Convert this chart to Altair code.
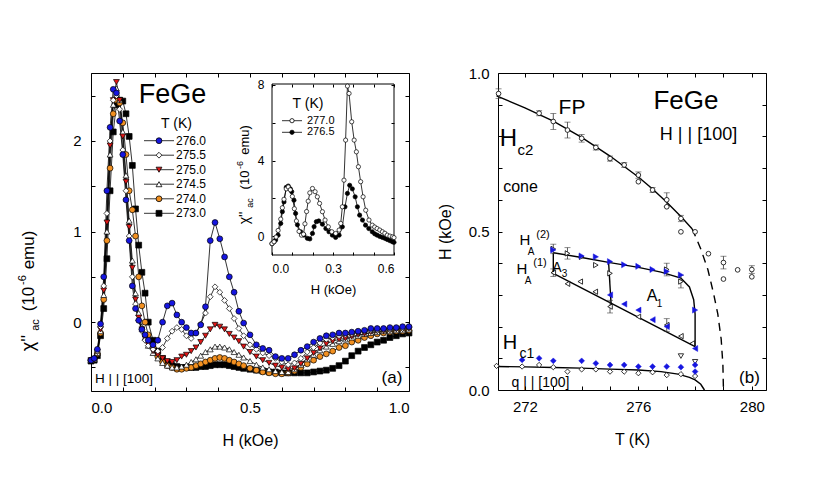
import altair as alt
import pandas as pd

FONT = "Liberation Sans"

# ---------------- panel (a): chi''_ac vs H ----------------
H_grid = [
    0.000, 0.010, 0.020, 0.030, 0.040, 0.050, 0.060, 0.070, 0.080, 0.090,
    0.100, 0.110, 0.120, 0.130, 0.140, 0.150, 0.160, 0.170, 0.180, 0.195,
    0.210, 0.225, 0.240, 0.255, 0.270, 0.285, 0.300, 0.315, 0.330, 0.345,
    0.360, 0.375, 0.390, 0.405, 0.420, 0.435, 0.450, 0.465, 0.480, 0.500,
    0.520, 0.540, 0.560, 0.580, 0.600, 0.620, 0.640, 0.660, 0.680, 0.700,
    0.720, 0.740, 0.760, 0.780, 0.800, 0.820, 0.840, 0.860, 0.880, 0.900,
    0.920, 0.940, 0.960, 0.980, 1.000]

T_labels = ["276.0", "275.5", "275.0", "274.5", "274.0", "273.0"]
T_shapes = ["circle", "diamond", "triangle-down", "triangle-up", "circle", "square"]
T_fills = ["#1616e0", "white", "#e01818", "white", "#f29020", "black"]

chi_2760 = [
    -0.42, -0.40, -0.30, -0.02, 0.50, 1.45, 2.15, 2.57, 2.53, 2.22,
    1.85, 1.35, 0.90, 0.40, 0.15, 0.02, -0.08, -0.14, -0.20, -0.25,
    -0.20, 0.00, 0.18, 0.21, 0.08, 0.00, -0.06, -0.12, -0.12, -0.03,
    0.17, 0.90, 1.10, 0.92, 0.72, 0.50, 0.33, 0.12, -0.01, -0.14,
    -0.25, -0.29, -0.31, -0.38, -0.40, -0.40, -0.36, -0.31, -0.27, -0.22,
    -0.18, -0.15, -0.14, -0.12, -0.12, -0.11, -0.10, -0.09, -0.07, -0.07,
    -0.07, -0.06, -0.06, -0.05, -0.05]
chi_2755 = [
    -0.42, -0.40, -0.32, -0.05, 0.40, 1.20, 2.00, 2.45, 2.50, 2.35,
    1.90, 1.45, 0.95, 0.50, 0.20, 0.02, -0.10, -0.20, -0.26, -0.30,
    -0.32, -0.28, -0.18, -0.10, -0.06, -0.08, -0.15, -0.18, -0.12, -0.02,
    0.10, 0.28, 0.39, 0.33, 0.24, 0.15, 0.04, -0.07, -0.15, -0.25,
    -0.30, -0.34, -0.37, -0.40, -0.44, -0.47, -0.45, -0.40, -0.33, -0.28,
    -0.23, -0.19, -0.17, -0.15, -0.14, -0.13, -0.11, -0.10, -0.09, -0.09,
    -0.08, -0.08, -0.07, -0.07, -0.06]
chi_2750 = [
    -0.42, -0.41, -0.33, -0.08, 0.35, 1.10, 1.95, 2.45, 2.65, 2.45,
    2.05, 1.55, 1.05, 0.60, 0.25, 0.05, -0.08, -0.18, -0.25, -0.32,
    -0.36, -0.40, -0.43, -0.44, -0.42, -0.38, -0.36, -0.32, -0.28, -0.22,
    -0.15, -0.08, -0.03, -0.05, -0.08, -0.13, -0.17, -0.21, -0.27, -0.33,
    -0.38, -0.42, -0.45, -0.48, -0.50, -0.52, -0.51, -0.46, -0.40, -0.34,
    -0.29, -0.24, -0.21, -0.19, -0.18, -0.16, -0.14, -0.13, -0.11, -0.10,
    -0.10, -0.09, -0.08, -0.08, -0.07]
chi_2745 = [
    -0.42, -0.41, -0.34, -0.10, 0.30, 1.00, 1.85, 2.40, 2.58, 2.45,
    2.10, 1.62, 1.12, 0.68, 0.32, 0.10, -0.05, -0.17, -0.26, -0.34,
    -0.40, -0.45, -0.48, -0.50, -0.50, -0.49, -0.47, -0.44, -0.41, -0.37,
    -0.33, -0.30, -0.27, -0.27, -0.28, -0.30, -0.33, -0.36, -0.39, -0.43,
    -0.47, -0.50, -0.52, -0.54, -0.55, -0.55, -0.52, -0.47, -0.41, -0.36,
    -0.31, -0.27, -0.24, -0.21, -0.19, -0.17, -0.15, -0.13, -0.12, -0.11,
    -0.10, -0.10, -0.09, -0.09, -0.08]
chi_2740 = [
    -0.42, -0.41, -0.35, -0.12, 0.25, 0.90, 1.70, 2.30, 2.45, 2.42,
    2.20, 1.85, 1.45, 1.24, 0.95, 0.50, 0.18, 0.00, -0.14, -0.28,
    -0.38, -0.44, -0.48, -0.50, -0.52, -0.52, -0.51, -0.50, -0.48, -0.46,
    -0.44, -0.42, -0.40, -0.39, -0.40, -0.42, -0.44, -0.46, -0.48, -0.51,
    -0.53, -0.55, -0.56, -0.57, -0.57, -0.56, -0.54, -0.50, -0.46, -0.42,
    -0.38, -0.35, -0.32, -0.28, -0.26, -0.22, -0.20, -0.17, -0.15, -0.13,
    -0.12, -0.11, -0.10, -0.10, -0.09]
chi_2730 = [
    -0.43, -0.42, -0.37, -0.15, 0.15, 0.70, 1.45, 2.10, 2.40, 2.45,
    2.44, 2.30, 2.05, 1.73, 1.25, 0.85, 0.55, 0.32, 0.00, -0.20,
    -0.32, -0.40, -0.45, -0.48, -0.49, -0.50, -0.50, -0.50, -0.50, -0.49,
    -0.49, -0.48, -0.47, -0.47, -0.47, -0.48, -0.49, -0.50, -0.51, -0.52,
    -0.53, -0.54, -0.55, -0.55, -0.56, -0.56, -0.56, -0.56, -0.56, -0.55,
    -0.54, -0.53, -0.51, -0.48, -0.43, -0.37, -0.32, -0.28, -0.25, -0.22,
    -0.20, -0.17, -0.15, -0.13, -0.12]

# inset
inset_H_2770 = [
    0.000, 0.010, 0.020, 0.030, 0.043, 0.051, 0.059, 0.070, 0.080, 0.090,
    0.100, 0.110, 0.120, 0.133, 0.145, 0.155, 0.162, 0.170, 0.178, 0.186,
    0.199, 0.212, 0.223, 0.234, 0.248, 0.261, 0.277, 0.294, 0.313, 0.330,
    0.338, 0.346, 0.354, 0.362, 0.371, 0.379, 0.392, 0.404, 0.415, 0.425,
    0.436, 0.448, 0.461, 0.477, 0.493, 0.505, 0.517, 0.530, 0.543, 0.555,
    0.567, 0.580, 0.592, 0.600]
inset_chi_2770 = [
    -0.40, -0.30, -0.05, 0.30, 0.90, 1.50, 1.95, 2.50, 2.60, 2.45,
    2.10, 1.45, 0.80, 0.25, 0.05, 0.10, 0.65, 1.30, 1.85, 2.29,
    2.52, 2.35, 2.08, 1.73, 1.29, 0.85, 0.49, 0.23, 0.14, 0.32,
    0.67, 1.55, 2.96, 5.08, 7.94, 7.55, 6.05, 5.08, 4.46, 3.67,
    2.88, 2.08, 1.37, 0.85, 0.58, 0.48, 0.40, 0.32, 0.23, 0.15,
    0.05, 0.00, -0.04, -0.08]
inset_H_2765 = [
    0.000, 0.010, 0.018, 0.030, 0.043, 0.051, 0.059, 0.070, 0.080, 0.090,
    0.097, 0.108, 0.116, 0.125, 0.141, 0.157, 0.174, 0.186, 0.199, 0.207,
    0.218, 0.230, 0.248, 0.265, 0.280, 0.297, 0.313, 0.330, 0.346, 0.359,
    0.371, 0.382, 0.395, 0.409, 0.420, 0.431, 0.445, 0.460, 0.476, 0.493,
    0.505, 0.517, 0.530, 0.543, 0.555, 0.567, 0.580, 0.592, 0.600]
inset_chi_2765 = [
    -0.40, -0.30, -0.20, 0.05, 0.67, 1.29, 1.81, 2.58, 2.65, 2.50,
    2.35, 1.90, 1.20, 0.60, 0.23, 0.05, -0.12, -0.15, 0.14, 0.50,
    0.76, 0.80, 0.63, 0.40, 0.23, 0.05, -0.07, 0.05, 0.49, 1.55,
    2.26, 2.69, 2.50, 2.08, 1.55, 1.11, 0.85, 0.58, 0.40, 0.23,
    0.12, 0.05, -0.02, -0.07, -0.12, -0.18, -0.24, -0.30, -0.33]

# ---------------- panel (b): phase diagram ----------------
hc2_T = [271.07, 272.5, 273.0, 273.5, 274.0, 274.5, 275.0, 275.5, 276.0, 276.0, 276.5,
         277.0, 277.0, 277.5, 277.5, 278.0, 278.47, 279.0, 279.0, 279.5, 280.0, 280.0]
hc2_H = [0.935, 0.873, 0.847, 0.820, 0.794, 0.765, 0.730, 0.710, 0.678, 0.657, 0.631,
         0.600, 0.578, 0.541, 0.499, 0.499, 0.430, 0.402, 0.350, 0.379, 0.380, 0.357]
hc2_err = [0.015, 0.008, 0.025, 0.025, 0.012, 0.008, 0.008, 0.008, 0.010, 0.0, 0.008,
           0.022, 0.0, 0.010, 0.0, 0.0, 0.0, 0.020, 0.0, 0.0, 0.012, 0.0]

hc1o_T = [271.0, 271.9, 272.5, 273.0, 273.5, 274.0, 274.5, 275.0, 275.5, 276.0, 276.5, 277.0, 277.5, 278.0]
hc1o_H = [0.076, 0.074, 0.079, 0.072, 0.058, 0.065, 0.065, 0.058, 0.058, 0.053, 0.056, 0.047, 0.050, 0.044]
hc1b_T = [271.9, 272.5, 273.0, 274.0, 274.5, 275.0, 275.5, 276.0, 276.5, 277.0, 277.5, 278.0, 278.0]
hc1b_H = [0.095, 0.100, 0.092, 0.092, 0.084, 0.079, 0.079, 0.074, 0.074, 0.074, 0.072, 0.079, 0.058]

aub_T = [273.0, 274.0, 274.5, 275.0, 275.5, 276.0, 276.5, 277.0, 277.5, 278.0]
aub_H = [0.442, 0.423, 0.420, 0.405, 0.395, 0.390, 0.380, 0.374, 0.363, 0.252]
alb_T = [275.0, 275.5, 276.0, 276.5, 277.0, 278.0]
alb_H = [0.300, 0.271, 0.252, 0.222, 0.200, 0.131]
auo_T = [273.0, 273.5, 274.0, 274.5, 275.0, 277.0, 277.5]
auo_H = [0.445, 0.431, 0.420, 0.394, 0.368, 0.380, 0.342]
auo_err = [0.015, 0.018, 0.0, 0.0, 0.0, 0.020, 0.020]
alo_T = [273.0, 273.5, 273.95, 274.48, 275.0, 276.0, 277.0, 277.5, 277.9]
alo_H = [0.370, 0.335, 0.342, 0.310, 0.263, 0.231, 0.205, 0.170, 0.147]
alo_err = [0.012, 0.0, 0.0, 0.0, 0.020, 0.0, 0.020, 0.0, 0.0]
ado_T = [277.5, 278.0]
ado_H = [0.107, 0.089]

# boundary lines
fit_hc2_T = [271.0, 272.0, 273.0, 274.0, 275.0, 276.0, 276.5, 277.0, 277.5, 277.9]
fit_hc2_H = [0.928, 0.890, 0.848, 0.797, 0.738, 0.672, 0.634, 0.592, 0.547, 0.508]
fit_hc2d_T = [277.9, 278.2, 278.45, 278.65, 278.8, 278.92, 278.98, 279.0]
fit_hc2d_H = [0.508, 0.445, 0.380, 0.305, 0.240, 0.160, 0.080, 0.0]
fit_hc1_T = [271.0, 272.0, 273.0, 274.0, 275.0, 276.0, 276.8, 277.4, 277.8, 278.0, 278.2, 278.33]
fit_hc1_H = [0.074, 0.073, 0.071, 0.069, 0.066, 0.063, 0.058, 0.050, 0.040, 0.032, 0.018, 0.0]
fit_aup_T = [273.0, 274.0, 275.0, 276.0, 276.8, 277.5, 277.8, 277.95, 278.0, 278.0]
fit_aup_H = [0.433, 0.418, 0.402, 0.387, 0.372, 0.353, 0.325, 0.285, 0.240, 0.137]
fit_alow_T = [273.0, 278.0]
fit_alow_H = [0.368, 0.137]
fit_aleft_T = [273.0, 273.0]
fit_aleft_H = [0.433, 0.368]
fit_asep_T = [274.95, 275.04]
fit_asep_H = [0.402, 0.268]

# ---------------- helpers ----------------
one = pd.DataFrame({"k": [0]})


def inward_axis(orient, values, labelexpr=None, labels=True, ts=4, edge=0,
                title=None, lp=8, tp=12, lfs=15, tfs=16):
    kw = dict(orient=orient, values=values, tickSize=ts, offset=edge - ts,
              domain=False, grid=False, ticks=True, tickColor="black", tickWidth=1,
              labels=labels, labelFont=FONT, labelFontSize=lfs, labelColor="black",
              labelPadding=lp, titleFont=FONT, titleFontSize=tfs,
              titleFontWeight="normal", titleColor="black", titlePadding=tp,
              title=title)
    if labelexpr:
        kw["labelExpr"] = labelexpr
    return alt.Axis(**kw)


def txt(s, x, y, fs, angle=0, align="center", baseline="middle"):
    kw = dict(text=s, fontSize=fs, font=FONT, align=align, baseline=baseline, color="black")
    if angle:
        kw["angle"] = angle
    return alt.Chart(one).mark_text(**kw).encode(x=alt.value(x), y=alt.value(y))


def legend_row(label, shape, fill, x0, x1, y, xlab, fs, size, stroke="black"):
    line = alt.Chart(one).mark_rule(color="black", strokeWidth=0.8).encode(
        x=alt.value(x0), x2=alt.value(x1), y=alt.value(y))
    sym = alt.Chart(one).mark_point(shape=shape, filled=True, fill=fill, stroke=stroke,
                                    strokeWidth=0.8, size=size, opacity=1).encode(
        x=alt.value((x0 + x1) / 2), y=alt.value(y))
    return [line, sym, txt(label, xlab, y, fs, align="left")]


# ---------------- build panel (a) ----------------
WA, HA = 318, 318
rows = []
for lab, vals in zip(T_labels, [chi_2760, chi_2755, chi_2750, chi_2745, chi_2740, chi_2730]):
    for h, c in zip(H_grid, vals):
        rows.append({"H": h, "chi": c, "T": lab, "rank": T_labels.index(lab)})
df_a = pd.DataFrame(rows).sort_values("rank", ascending=False, kind="stable")

xa_vals = [0.0, 0.1, 0.2, 0.3, 0.4, 0.5, 0.6, 0.7, 0.8, 0.9, 1.0]
ya_vals = [-0.5, 0.0, 0.5, 1.0, 1.5, 2.0, 2.5]
xa_scale = alt.Scale(domain=[0, 1.0], nice=False, zero=False)
ya_scale = alt.Scale(domain=[-0.76, 2.75], nice=False, zero=False)
xa = alt.X("H:Q", scale=xa_scale, axis=inward_axis(
    "bottom", xa_vals, "datum.value == 0 || datum.value == 0.5 || datum.value == 1 ? format(datum.value, '.1f') : ''",
    title="H (kOe)", lp=9, tp=17))
ya = alt.Y("chi:Q", scale=ya_scale, axis=inward_axis(
    "left", ya_vals, "datum.value == 0 || datum.value == 1 || datum.value == 2 ? format(datum.value, 'd') : ''",
    title=None, lp=10))

shape_sc = alt.Scale(domain=T_labels, range=T_shapes)
fill_sc = alt.Scale(domain=T_labels, range=T_fills)

lines_a = alt.Chart(df_a).mark_line(color="black", strokeWidth=0.8).encode(
    x=xa, y=ya, detail="T:N", order="H:Q")
pts_a = alt.Chart(df_a).mark_point(filled=True, stroke="black", strokeWidth=0.7,
                                   size=34, opacity=1).encode(
    x=xa, y=ya,
    shape=alt.Shape("T:N", scale=shape_sc, legend=None),
    fill=alt.Fill("T:N", scale=fill_sc, legend=None),
    order=alt.Order("rank:Q", sort="descending"))

deco_a = [
    txt("FeGe", 81.5, 22, 27),
    txt("T (K)", 85.5, 51, 14),
    txt("(a)", 301, 305, 17),
    txt("H | | [100]", 33, 305.5, 13.5),
    # y-axis title pieces (rotated)
    txt("χ''", -62, 270, 18, angle=270),
    txt("ac", -55, 252, 11, angle=270),
    txt("(10", -62, 226, 17, angle=270),
    txt("-6", -68, 207, 11, angle=270),
    txt("emu)", -62, 177, 17, angle=270),
]
leg_y = [67.7, 82.2, 96.7, 111.2, 125.8, 140.3]
for lab, shp, fl, yy in zip(T_labels, T_shapes, T_fills, leg_y):
    deco_a += legend_row(lab, shp, fl, 53, 83, yy, 85, 12, 34)

main_a = alt.layer(lines_a, pts_a, *deco_a)

mirror_df = pd.DataFrame({"mx": [0.5], "my": [1.0]})
mirror_a = alt.Chart(mirror_df).mark_point(opacity=0).encode(
    x=alt.X("mx:Q", scale=xa_scale, axis=inward_axis("top", xa_vals, labels=False)),
    y=alt.Y("my:Q", scale=ya_scale, axis=inward_axis("right", ya_vals, labels=False)))

# inset
df_2770 = pd.DataFrame({"ih": inset_H_2770, "ic": inset_chi_2770})
df_2765 = pd.DataFrame({"ih": inset_H_2765, "ic": inset_chi_2765})
ix_scale = alt.Scale(domain=[0, 0.6], range=[181, 303], nice=False, zero=False)
iy_scale = alt.Scale(domain=[-1.0, 8.05], range=[182, 11], nice=False, zero=False)
ix_vals = [0.0, 0.1, 0.2, 0.3, 0.4, 0.5, 0.6]
iy_vals = [0, 2, 4, 6, 8]
ix_axis = inward_axis("bottom", ix_vals,
                      "datum.value == 0 || datum.value == 0.3 || datum.value == 0.6 ? format(datum.value, '.1f') : ''",
                      ts=3, edge=-(HA - 182), title="H (kOe)", lp=8, tp=9, lfs=12, tfs=13)
iy_axis = inward_axis("left", iy_vals, "datum.value % 4 == 0 ? format(datum.value, 'd') : ''",
                      ts=3, edge=-181, title=None, lp=8, lfs=12)
ix = alt.X("ih:Q", scale=ix_scale, axis=ix_axis)
iy = alt.Y("ic:Q", scale=iy_scale, axis=iy_axis)


def inset_series(d, fill):
    ln = alt.Chart(d).mark_line(color="black", strokeWidth=0.8).encode(x=ix, y=iy, order="ih:Q")
    pt = alt.Chart(d).mark_point(filled=True, fill=fill, stroke="black", strokeWidth=0.7,
                                 size=18, opacity=1, shape="circle").encode(x=ix, y=iy)
    return [ln, pt]


frame_df = pd.DataFrame({"ih": [0.0], "ih2": [0.6], "ic": [-1.0], "ic2": [8.05]})
in_frame = alt.Chart(frame_df).mark_rect(filled=False, color="black", strokeWidth=1).encode(
    x=ix, x2="ih2:Q", y=iy, y2="ic2:Q")
deco_in = [
    txt("T (K)", 217, 31, 14),
    txt("χ''", -92 + 246, 218 - 73, 14, angle=270),
    txt("ac", -92 + 251, 203 - 73, 9, angle=270),
    txt("(10", -92 + 246, 180 - 73, 13, angle=270),
    txt("-6", -92 + 241, 165 - 73, 9, angle=270),
    txt("emu)", -92 + 246, 140 - 73, 13, angle=270),
]
deco_in += legend_row("277.0", "circle", "white", 191, 211, 47.7, 216, 11, 18)
deco_in += legend_row("276.5", "circle", "black", 191, 211, 59.3, 216, 11, 18)
inset_a = alt.layer(in_frame, *inset_series(df_2765, "black"), *inset_series(df_2770, "white"), *deco_in)

in_mirror_df = pd.DataFrame({"mx": [0.3], "my": [4.0]})
inset_mirror = alt.Chart(in_mirror_df).mark_point(opacity=0).encode(
    x=alt.X("mx:Q", scale=ix_scale, axis=inward_axis("top", ix_vals, labels=False, ts=3, edge=-11)),
    y=alt.Y("my:Q", scale=iy_scale, axis=inward_axis("right", iy_vals, labels=False, ts=3, edge=-(WA - 303))))

panel_a = alt.layer(main_a, mirror_a, inset_a, inset_mirror).resolve_scale(
    x="independent", y="independent").properties(width=WA, height=HA)

# ---------------- build panel (b) ----------------
WB, HB = 268, 317
xb_vals = [271, 272, 273, 274, 275, 276, 277, 278, 279, 280]
yb_vals = [0.0, 0.1, 0.2, 0.3, 0.4, 0.5, 0.6, 0.7, 0.8, 0.9, 1.0]
xb_scale = alt.Scale(domain=[271.05, 280.5], nice=False, zero=False)
yb_scale = alt.Scale(domain=[0, 1.0], nice=False, zero=False)
xb_axis = inward_axis("bottom", xb_vals, "datum.value % 4 == 0 ? format(datum.value, 'd') : ''",
                      title="T (K)", lp=9, tp=17)
yb_axis = inward_axis("left", yb_vals,
                      "datum.value == 0 || datum.value == 0.5 || datum.value == 1 ? format(datum.value, '.1f') : ''",
                      title="H (kOe)", lp=9, tp=15)
xb = alt.X("T:Q", scale=xb_scale, axis=xb_axis)
yb = alt.Y("H:Q", scale=yb_scale, axis=yb_axis)

line_rows = []
for seg, Ts, Hs, dash in [("hc2", fit_hc2_T, fit_hc2_H, 0), ("hc2d", fit_hc2d_T, fit_hc2d_H, 1),
                          ("hc1", fit_hc1_T, fit_hc1_H, 0), ("aup", fit_aup_T, fit_aup_H, 0),
                          ("alow", fit_alow_T, fit_alow_H, 0), ("aleft", fit_aleft_T, fit_aleft_H, 0),
                          ("asep", fit_asep_T, fit_asep_H, 0)]:
    for i, (t, h) in enumerate(zip(Ts, Hs)):
        line_rows.append({"T": t, "H": h, "seg": seg, "i": i, "dash": dash})
df_lines = pd.DataFrame(line_rows)
solid_b = alt.Chart(df_lines[df_lines.dash == 0]).mark_line(color="black", strokeWidth=1.4).encode(
    x=xb, y=yb, detail="seg:N", order="i:Q")
dashed_b = alt.Chart(df_lines[df_lines.dash == 1]).mark_line(color="black", strokeWidth=1.4,
                                                            strokeDash=[8, 6]).encode(
    x=xb, y=yb, detail="seg:N", order="i:Q")

err_rows = []
for Ts, Hs, Es in [(hc2_T, hc2_H, hc2_err), (auo_T, auo_H, auo_err), (alo_T, alo_H, alo_err)]:
    for t, h, e in zip(Ts, Hs, Es):
        if e > 0:
            err_rows.append({"T": t, "lo": h - e, "hi": h + e})
df_err = pd.DataFrame(err_rows)
yb_lo = alt.Y("lo:Q", scale=yb_scale, axis=yb_axis)
err_rule = alt.Chart(df_err).mark_rule(color="#333333", strokeWidth=0.8).encode(
    x=xb, y=yb_lo, y2="hi:Q")
err_lo = alt.Chart(df_err).mark_tick(orient="horizontal", size=6, thickness=0.8, color="#333333").encode(
    x=xb, y=yb_lo)
err_hi = alt.Chart(df_err).mark_tick(orient="horizontal", size=6, thickness=0.8, color="#333333").encode(
    x=xb, y=alt.Y("hi:Q", scale=yb_scale, axis=yb_axis))


def pts_b(Ts, Hs, shape, fill, stroke, size, sw=0.8):
    d = pd.DataFrame({"T": Ts, "H": Hs})
    return alt.Chart(d).mark_point(shape=shape, filled=True, fill=fill, stroke=stroke,
                                   strokeWidth=sw, size=size, opacity=1).encode(x=xb, y=yb)


BLUE = "#1616e0"
pts_layers_b = [
    pts_b(hc2_T, hc2_H, "circle", "white", "black", 22),
    pts_b(hc1o_T, hc1o_H, "diamond", "white", "black", 28),
    pts_b(auo_T, auo_H, "triangle-right", "white", "black", 28),
    pts_b(alo_T, alo_H, "triangle-left", "white", "black", 28),
    pts_b(ado_T, ado_H, "triangle-down", "white", "black", 28),
    pts_b(hc1b_T, hc1b_H, "diamond", BLUE, BLUE, 34, 0.5),
    pts_b(aub_T, aub_H, "triangle-right", BLUE, BLUE, 36, 0.5),
    pts_b(alb_T, alb_H, "triangle-left", BLUE, BLUE, 36, 0.5),
]

deco_b = [
    txt("FP", 74, 35, 21),
    txt("FeGe", 188, 28, 26),
    txt("H | | [100]", 200.5, 62, 18),
    txt("H", 10.5, 65.5, 24),
    txt("c2", 27.5, 77, 15),
    txt("cone", 22.5, 114, 16),
    txt("H", 27, 167, 15),
    txt("A", 33, 179, 10),
    txt("(2)", 45, 162, 11),
    txt("H", 24, 196, 15),
    txt("A", 30, 208, 10),
    txt("(1)", 42, 190, 11),
    txt("A", 59, 195, 14),
    txt("3", 66.5, 201, 10),
    txt("A", 154, 223, 16),
    txt("1", 161.5, 230.5, 10),
    txt("H", 12, 270, 20),
    txt("c1", 29, 281, 14),
    txt("q | | [100]", 42.5, 309.5, 14),
    txt("(b)", 251.5, 304.5, 17),
]

main_b = alt.layer(solid_b, dashed_b, err_rule, err_lo, err_hi, *pts_layers_b, *deco_b)
mirror_b = alt.Chart(pd.DataFrame({"mx": [275.0], "my": [0.5]})).mark_point(opacity=0).encode(
    x=alt.X("mx:Q", scale=xb_scale, axis=inward_axis("top", xb_vals, labels=False)),
    y=alt.Y("my:Q", scale=yb_scale, axis=inward_axis("right", yb_vals, labels=False)))

panel_b = alt.layer(main_b, mirror_b).resolve_scale(
    x="independent", y="independent").properties(width=WB, height=HB)

chart = alt.hconcat(panel_a, panel_b, spacing=22).properties(
    padding={"left": 8, "top": 57, "right": 5, "bottom": 5},
    background="white",
).configure_view(stroke="black", strokeWidth=1).configure_text(font=FONT)

chart.save("out.html", embed_options={"renderer": "svg", "actions": False})
